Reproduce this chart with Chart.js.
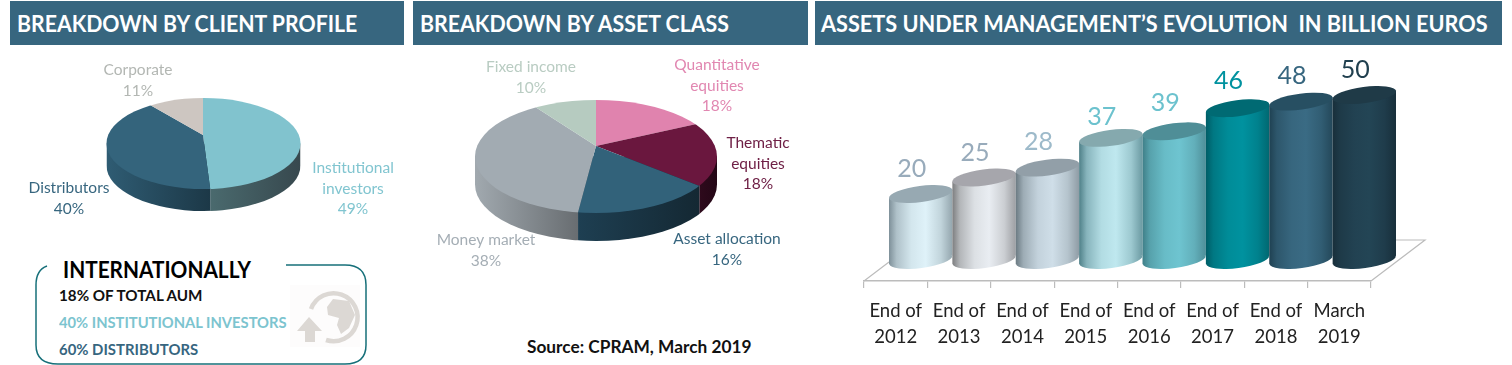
<!DOCTYPE html>
<html>
<head>
<meta charset="utf-8">
<title>CPRAM breakdown</title>
<script src="https://cdn.jsdelivr.net/npm/chart.js@4/dist/chart.umd.min.js"></script>
<style>
  html, body { margin: 0; padding: 0; background: #fff; }
  body { position: relative; width: 1512px; height: 365px; overflow: hidden; font-family: Lato, sans-serif; }
  canvas { position: absolute; top: 0; }
  .head { position: absolute; top: 1px; height: 44px; background: #37667f; }
  .head span { position: absolute; left: 7px; top: 8px; color: #fff; font-weight: 700; font-size: 23px; line-height: 28px; white-space: nowrap; transform-origin: 0 50%; }
  .txt { position: absolute; font-weight: 700; white-space: nowrap; transform-origin: 0 50%; }
  svg { position: absolute; left: 0; top: 0; }
</style>
</head>
<body>

<div class="head" style="left:10px;width:394px"><span class="fit" data-w="340">BREAKDOWN BY CLIENT PROFILE</span></div>
<div class="head" style="left:413px;width:395px"><span class="fit" data-w="309">BREAKDOWN BY ASSET CLASS</span></div>
<div class="head" style="left:815px;width:687px"><span class="fit" data-w="667" style="left:6px">ASSETS UNDER MANAGEMENT’S EVOLUTION&nbsp; IN BILLION EUROS</span></div>

<svg width="1512" height="365">
  <rect x="290" y="285" width="70" height="62" fill="#fdfcfc"/>
  <path d="M47 266 Q36 270 36 285 L36 345 Q36 364 58 364 L345 364 Q366 364 366 345 L366 285 Q366 265 345 265 L286 265" fill="none" stroke="#17707a" stroke-width="1.5"/>
  <path d="M311 309 A24 24 0 1 1 326 340" fill="none" stroke="#dcd8d4" stroke-width="4.5"/>
  <path d="M333 299 L349 301 L355 315 L349 328 L341 334 L337 325 L339 318 L328 315 L327 307Z" fill="#dcd8d4"/>
  <path d="M309 317 L322 331 L315 331 L315 342 L305 342 L305 331 L297 331Z" fill="#dcd8d4"/>
</svg>

<div class="txt fit" data-w="188" style="left:63px;top:255px;font-size:23px;line-height:28px;color:#000">INTERNATIONALLY</div>
<div class="txt fit" data-w="143" style="left:59px;top:285px;font-size:15px;line-height:20px;color:#111">18% OF TOTAL AUM</div>
<div class="txt fit" data-w="228" style="left:59px;top:312px;font-size:15px;line-height:20px;color:#7cc4cf">40% INSTITUTIONAL INVESTORS</div>
<div class="txt fit" data-w="139" style="left:59px;top:339px;font-size:15px;line-height:20px;color:#37667f">60% DISTRIBUTORS</div>
<div class="txt fit" data-w="224" style="left:527px;top:337px;font-size:16.5px;line-height:20px;color:#111">Source: CPRAM, March 2019</div>

<canvas id="clientPie" width="410" height="365" style="left:0"></canvas>
<canvas id="assetPie" width="400" height="365" style="left:410px"></canvas>
<canvas id="aumBars" width="702" height="365" style="left:810px"></canvas>

<script>
// client profile pie
const clientLabels = [["Institutional", "investors"], ["Distributors"], ["Corporate"]];
const clientValues = [49, 40, 11];
const clientColors = ["#81c3ce", "#34647c", "#cdc6c1"];
const clientText = ["#81c5d0", "#37667f", "#b3b7b3"];
const clientSides = [["#4a6a6e", "#37484e"], ["#2f5c73", "#1c3847"], ["#aaaaaa", "#aaaaaa"]];
const clientLabelAt = [[353, 168], [69, 188], [138, 70]];

// asset class pie
const assetLabels = [["Quantitative", "equities"], ["Thematic", "equities"], ["Asset allocation"], ["Money market"], ["Fixed income"]];
const assetValues = [18, 18, 16, 38, 10];
const assetColors = ["#e083ae", "#6a173e", "#32627a", "#a2abb2", "#b6cbc0"];
const assetText = ["#e187b1", "#6f2046", "#37667f", "#a5aeb5", "#b9ccc2"];
const assetSides = [["#a0607f", "#a0607f"], ["#2e0a1c", "#240716"], ["#1e3f52", "#142833"], ["#a1a9af", "#686d71"], ["#888888", "#888888"]];
const assetLabelAt = [[307, 65], [348, 143], [317, 239], [76, 240], [121, 67]];

// assets under management
const aumLabels = [["End of", "2012"], ["End of", "2013"], ["End of", "2014"], ["End of", "2015"], ["End of", "2016"], ["End of", "2017"], ["End of", "2018"], ["March", "2019"]];
const aumValues = [20, 25, 28, 37, 39, 46, 48, 50];
const barEdge = ["#7e9099", "#7d7e80", "#6b7a82", "#4f8088", "#3f7f88", "#005d66", "#1f4152", "#182f3b"];
const barLight = ["#dff2f9", "#e9edf2", "#cfdee8", "#bfe8ef", "#6ec4d0", "#00929f", "#3a6b84", "#234555"];
const barEnd = ["#94a6ae", "#9d9fa3", "#8f9ca5", "#6b9aa2", "#4f8f99", "#006871", "#24485a", "#182f3b"];
const barCap = ["#97a9b2", "#a6a6ac", "#929fa8", "#85a9ae", "#4f8e97", "#006a73", "#274f62", "#1f3a47"];
const aumText = ["#98abbb", "#98abbb", "#9dbaca", "#6cc2ce", "#6cc2ce", "#00929f", "#37667f", "#21404f"];
const aumLabelDy = [25, 25, 26, 21, 28, 27, 26, 25];

function mix(c1, c2, t) {
  const out = [1, 3, 5].map(p => {
    const a = parseInt(c1.substr(p, 2), 16), b = parseInt(c2.substr(p, 2), 16);
    return Math.round(a + (b - a) * t);
  });
  return 'rgb(' + out.join(',') + ')';
}

// where a ray from the apex at a pie angle meets the tilted rim
function rimPoint(g, ax, ay, angle) {
  const dx = Math.sin(angle), dy = -Math.cos(angle) * g.ry / g.rx;
  const ox = (ax - g.cx) / g.rx, oy = (ay - g.cy) / g.ry;
  const px = dx / g.rx, py = dy / g.ry;
  const a = px * px + py * py, b = 2 * (ox * px + oy * py), c = ox * ox + oy * oy - 1;
  const t = (-b + Math.sqrt(b * b - 4 * a * c)) / (2 * a);
  return ax + t * dx;
}

const tiltedPie = {
  id: 'tiltedPie',
  beforeDatasetDraw(chart, args, o) {
    const ctx = chart.ctx, g = o.rim;
    const arcs = chart.getDatasetMeta(0).data;
    const ax = arcs[0].x, ay = arcs[0].y;
    // angles of the rim's left and right ends, seen from the apex
    const k = g.ry / g.rx;
    const aRight = Math.atan2(g.rx - (ax - g.cx), -(g.cy - ay) / k);
    const aLeft = 2 * Math.PI - Math.atan2(g.rx + (ax - g.cx), -(g.cy - ay) / k);
    arcs.forEach((arc, i) => {
      const start = arc.startAngle + Math.PI / 2, end = arc.endAngle + Math.PI / 2;
      const a = Math.min(Math.max(start, aRight), aLeft), b = Math.min(Math.max(end, aRight), aLeft);
      if (b <= a) return;
      const x1 = b >= aLeft ? g.cx - g.rx : rimPoint(g, ax, ay, b);
      const x2 = a <= aRight ? g.cx + g.rx : rimPoint(g, ax, ay, a);
      const grad = ctx.createLinearGradient(x1, 0, x2, 0);
      grad.addColorStop(0, o.sides[i][0]);
      grad.addColorStop(1, o.sides[i][1]);
      ctx.save();
      ctx.beginPath();
      ctx.rect(x1, 0, x2 - x1, chart.height);
      ctx.clip();
      ctx.fillStyle = grad;
      ctx.beginPath();
      ctx.ellipse(g.cx, g.cy + g.depth, g.rx, g.ry, 0, 0, Math.PI);
      ctx.lineTo(g.cx - g.rx, g.cy);
      ctx.lineTo(g.cx + g.rx, g.cy);
      ctx.closePath();
      ctx.fill();
      ctx.restore();
    });
    // top face: big pie squashed about its apex, cut to the rim
    ctx.save();
    ctx.beginPath();
    ctx.ellipse(g.cx, g.cy, g.rx, g.ry, 0, 0, 2 * Math.PI);
    ctx.clip();
    ctx.translate(ax, ay);
    ctx.scale(1, k);
    ctx.translate(-ax, -ay);
  },
  afterDatasetDraw(chart) {
    chart.ctx.restore();
  },
  afterDraw(chart, args, o) {
    const ctx = chart.ctx;
    ctx.font = '15.5px Lato';
    ctx.textAlign = 'center';
    ctx.textBaseline = 'middle';
    chart.data.labels.forEach((lines, i) => {
      const pos = o.labelAt[i];
      ctx.fillStyle = o.text[i];
      lines.concat(chart.data.datasets[0].data[i] + '%').forEach((line, n) => {
        ctx.fillText(line, pos[0], pos[1] + n * 20.7);
      });
    });
  }
};

function makePie(id, labels, values, colors, text, sides, labelAt, rim, radius, padding) {
  return new Chart(document.getElementById(id), {
    type: 'pie',
    data: { labels: labels, datasets: [{ data: values, backgroundColor: colors, borderWidth: 0, radius: radius }] },
    options: {
      responsive: false,
      animation: false,
      layout: { padding: padding },
      plugins: {
        legend: { display: false },
        tooltip: { enabled: false },
        tiltedPie: { rim: rim, sides: sides, text: text, labelAt: labelAt }
      }
    },
    plugins: [tiltedPie]
  });
}

makePie('clientPie', clientLabels, clientValues, clientColors, clientText, clientSides, clientLabelAt,
  { cx: 203.5, cy: 143.5, rx: 97, ry: 45.5, depth: 22 }, 140, { right: 4, bottom: 95 });
makePie('assetPie', assetLabels, assetValues, assetColors, assetText, assetSides, assetLabelAt,
  { cx: 186, cy: 156.5, rx: 121, ry: 56.5, depth: 28 }, 170, { right: 28, bottom: 73 });

const shiftX = 25, shiftY = -21, capB = 7, capTilt = -0.13;

const cylinders = {
  id: 'cylinders',
  // floor of the plot, behind the cylinders
  beforeDatasetsDraw(chart) {
    const ctx = chart.ctx, a = chart.chartArea;
    ctx.save();
    ctx.strokeStyle = '#bcbcbc';
    ctx.lineWidth = 1.2;
    ctx.beginPath();
    ctx.moveTo(a.left, a.bottom);
    ctx.lineTo(a.left + 25, a.bottom - 19);
    ctx.moveTo(a.right, a.bottom);
    ctx.lineTo(a.right + 54, a.bottom - 41);
    ctx.lineTo(a.right + 20, a.bottom - 41);
    ctx.stroke();
    ctx.restore();
  },
  beforeDatasetDraw(chart) {
    const ctx = chart.ctx;
    const bars = chart.getDatasetMeta(0).data;
    ctx.save();
    ctx.translate(shiftX, shiftY);
    bars.forEach((bar, i) => {
      const half = bar.width / 2;
      const lean = half * Math.tan(-capTilt);
      const grad = ctx.createLinearGradient(bar.x - half, 0, bar.x + half, 0);
      grad.addColorStop(0, barEdge[i]);
      grad.addColorStop(0.12, mix(barEdge[i], barLight[i], 0.5));
      grad.addColorStop(0.35, mix(barEdge[i], barLight[i], 0.88));
      grad.addColorStop(0.58, barLight[i]);
      grad.addColorStop(0.82, mix(barEnd[i], barLight[i], 0.6));
      grad.addColorStop(1, barEnd[i]);
      ctx.fillStyle = grad;
      ctx.beginPath();
      ctx.moveTo(bar.x - half, bar.y + lean);
      ctx.lineTo(bar.x + half, bar.y - lean);
      ctx.lineTo(bar.x + half, bar.base - lean);
      ctx.lineTo(bar.x - half, bar.base + lean);
      ctx.closePath();
      ctx.ellipse(bar.x, bar.base, half, capB + 1, capTilt, 0, 2 * Math.PI);
      ctx.fill();
      ctx.fillStyle = barCap[i];
      ctx.beginPath();
      ctx.ellipse(bar.x, bar.y, half + 0.3, capB + 1, capTilt, 0, 2 * Math.PI);
      ctx.fill();
      // value above each cylinder
      ctx.fillStyle = aumText[i];
      ctx.font = '25px Lato';
      ctx.textAlign = 'center';
      ctx.textBaseline = 'middle';
      ctx.fillText(aumValues[i], bar.x - 9, bar.y - aumLabelDy[i]);
    });
    ctx.restore();
    return false;
  }
};

new Chart(document.getElementById('aumBars'), {
  type: 'bar',
  data: { labels: aumLabels, datasets: [{ data: aumValues, barPercentage: 1, categoryPercentage: 1 }] },
  options: {
    responsive: false,
    animation: false,
    layout: { padding: { left: 54, right: 141, top: 83, bottom: 0 } },
    plugins: { legend: { display: false }, tooltip: { enabled: false } },
    scales: {
      y: { display: false, min: 0, max: 60 },
      x: {
        afterFit(scale) { scale.height = 84; },
        grid: { drawOnChartArea: false, color: '#bcbcbc', tickLength: 7, lineWidth: 1.2 },
        border: { color: '#bcbcbc', width: 1.5 },
        ticks: { color: '#222', padding: 10, maxRotation: 0, autoSkip: false, font: { family: 'Lato', size: 18.5, lineHeight: 1.42 } }
      }
    }
  },
  plugins: [cylinders]
});

// stretch the headers and notes to the reference widths
document.querySelectorAll('.fit').forEach(el => {
  el.style.transform = 'scaleX(' + (el.dataset.w / el.offsetWidth) + ')';
});
</script>
</body>
</html>
